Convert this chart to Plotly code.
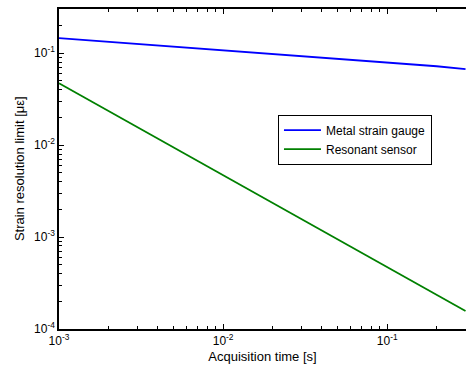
import plotly.graph_objects as go

# Acquisition time [s]
acq_time = [1e-3, 2e-3, 5e-3, 1e-2, 2e-2, 5e-2, 0.1, 0.2, 0.3]
# Strain resolution limit [µε]
metal_gauge = [0.146, 0.133, 0.118, 0.108, 0.098, 0.087, 0.079, 0.072, 0.067]
resonant = [0.047, 0.0235, 0.0094, 0.0047, 0.00235, 0.00094, 0.00047, 0.000235, 0.000157]

x_tickvals = [1e-3, 1e-2, 1e-1]
x_ticktext = ["10<sup>-3</sup>", "10<sup>-2</sup>", "10<sup>-1</sup>"]
y_tickvals = [1e-4, 1e-3, 1e-2, 1e-1]
y_ticktext = ["10<sup>-4</sup>", "10<sup>-3</sup>", "10<sup>-2</sup>", "10<sup>-1</sup>"]

FONT = "Liberation Sans, Arial"

fig = go.Figure()
fig.add_trace(go.Scatter(x=acq_time, y=metal_gauge, mode="lines",
                         name="Metal strain gauge", line=dict(color="#0000FF", width=1.8)))
fig.add_trace(go.Scatter(x=acq_time, y=resonant, mode="lines",
                         name="Resonant sensor", line=dict(color="#008000", width=1.8)))

axis_common = dict(
    showgrid=False, zeroline=False, showline=True, linecolor="black", linewidth=1.5,
    ticks="inside", ticklen=5, tickcolor="black", automargin=False,
    tickfont=dict(family=FONT, size=12, color="black"),
    minor=dict(ticks="inside", ticklen=3, tickcolor="black", showgrid=False, dtick="D1"),
)

fig.update_xaxes(type="log", range=[-3, -0.52], tickvals=x_tickvals, ticktext=x_ticktext,
                 mirror="ticks",
                 title=dict(text="Acquisition time [s]", standoff=5,
                            font=dict(family=FONT, size=13, color="black")),
                 **axis_common)
fig.update_yaxes(type="log", range=[-4, -0.52], tickvals=y_tickvals, ticktext=y_ticktext,
                 mirror=False, **axis_common)

fig.add_annotation(text="Strain resolution limit [με]", xref="paper", yref="paper",
                   x=-0.098, y=0.5, xanchor="center", yanchor="middle", textangle=-90,
                   showarrow=False, font=dict(family=FONT, size=13, color="black"))

fig.update_layout(
    width=466, height=373,
    margin=dict(l=59, r=0, t=9, b=44),
    paper_bgcolor="white", plot_bgcolor="white",
    font=dict(family=FONT, color="black"),
    legend=dict(x=0.538, y=0.67, xanchor="left", yanchor="top",
                bgcolor="white", bordercolor="black", borderwidth=1,
                font=dict(family=FONT, size=12, color="black"),
                tracegroupgap=0, itemwidth=37),
    showlegend=True,
)

fig.write_html("out.html", config={"displayModeBar": False, "responsive": False},
               post_script="document.body.style.margin='0px';")
